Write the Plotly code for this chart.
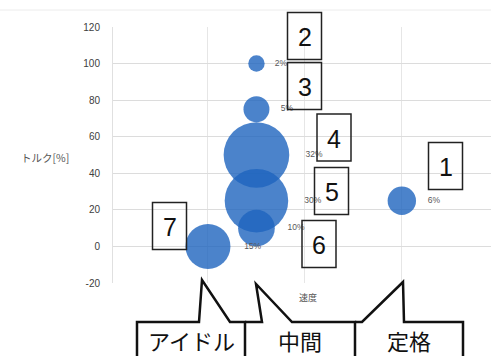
import plotly.graph_objects as go

# ---- data ----
modes = ["1", "2", "3", "4", "5", "6", "7"]
speed = [100, 25, 25, 25, 25, 25, 0]
torque = [25, 100, 75, 50, 25, 10, 0]
share = [6, 2, 5, 32, 30, 10, 15]
share_text = ["6%", "2%", "5%", "32%", "30%", "10%", "15%"]
y_ticks = [-20, 0, 20, 40, 60, 80, 100, 120]
regions = ["アイドル", "中間", "定格"]

W, H = 491, 356
X0, X1, Y0, Y1 = 113, 491, 27, 283  # plot area in pixels


def px(x):
    return (x - X0) / (X1 - X0)


def py(y):
    return (Y1 - y) / (Y1 - Y0)


fig = go.Figure()
fig.add_trace(go.Scatter(
    x=speed, y=torque, mode="markers+text",
    text=["   " + t for t in share_text],
    textposition="middle right",
    textfont=dict(family="Liberation Sans", size=8.5, color="#595959"),
    marker=dict(size=share, sizemode="area", sizeref=2 / 11.6 ** 2,
                color="rgb(30,100,190)", opacity=0.8, line=dict(width=0)),
    cliponaxis=False, showlegend=False, hoverinfo="skip",
))

shapes = []
annotations = []

# faint chart-area border line at top
shapes.append(dict(type="line", xref="paper", yref="paper",
                   x0=px(0), x1=px(W), y0=py(10), y1=py(10),
                   line=dict(color="#ececec", width=1)))

# numbered boxes (centre px)
box_centres = {"1": (445.5, 166), "2": (304.5, 36), "3": (304.5, 86),
               "4": (334, 137.5), "5": (331.5, 191), "6": (319, 244),
               "7": (169.5, 226)}
bw, bh = 34, 47
for m in modes:
    cx, cy = box_centres[m]
    shapes.append(dict(type="rect", xref="paper", yref="paper",
                       x0=px(cx - bw / 2), x1=px(cx + bw / 2),
                       y0=py(cy + bh / 2), y1=py(cy - bh / 2),
                       line=dict(color="#222222", width=1.5),
                       fillcolor="rgba(255,255,255,0)"))
    annotations.append(dict(text=m, xref="paper", yref="paper",
                            x=px(cx), y=py(cy + 1), showarrow=False,
                            xanchor="center", yanchor="middle",
                            font=dict(family="Liberation Sans", size=25, color="#111111")))

# bottom callouts
callout_paths = [
    [(137, 370), (137, 322), (199, 322), (202, 280), (230, 322), (245, 322), (245, 370)],
    [(245, 322), (262, 322), (256, 284), (292, 322), (355, 322), (355, 370)],
    [(355, 322), (362, 322), (403, 282), (404, 322), (463, 322), (463, 370)],
]
for pts in callout_paths:
    d = "M " + " L ".join(f"{px(a):.5f},{py(b):.5f}" for a, b in pts)
    shapes.append(dict(type="path", xref="paper", yref="paper", path=d,
                       line=dict(color="#111111", width=2.5)))
for name, cx in zip(regions, [191, 300, 409]):
    annotations.append(dict(text=name, xref="paper", yref="paper",
                            x=px(cx), y=py(340), showarrow=False,
                            xanchor="center", yanchor="middle",
                            font=dict(family="Noto Sans CJK JP", size=22, color="#111111")))

# axis titles
annotations.append(dict(text="トルク[%]", xref="paper", yref="paper",
                        x=px(45), y=py(157), showarrow=False,
                        xanchor="center", yanchor="middle",
                        font=dict(family="Noto Sans CJK JP", size=10.5, color="#555555")))
annotations.append(dict(text="速度", xref="paper", yref="paper",
                        x=px(308), y=py(297), showarrow=False,
                        xanchor="center", yanchor="middle",
                        font=dict(family="Noto Sans CJK JP", size=9, color="#555555")))

fig.update_layout(
    width=W, height=H,
    margin=dict(l=X0, r=W - X1, t=Y0, b=H - Y1),
    paper_bgcolor="white", plot_bgcolor="white",
    shapes=shapes, annotations=annotations,
    xaxis=dict(range=[-49, 146], tick0=0, dtick=50, showticklabels=False,
               showgrid=True, gridcolor="#e6e6e6", gridwidth=1,
               zeroline=False, showline=False),
    yaxis=dict(range=[-20, 120], tickvals=y_ticks,
               ticktext=[str(v) for v in y_ticks],
               showgrid=True, gridcolor="#dcdcdc", gridwidth=1,
               zeroline=False, showline=True, linecolor="#e0e0e0", linewidth=1,
               ticklabelstandoff=10,
               tickfont=dict(family="Liberation Sans", size=10, color="#404040")),
)

fig.write_html("out.html")
